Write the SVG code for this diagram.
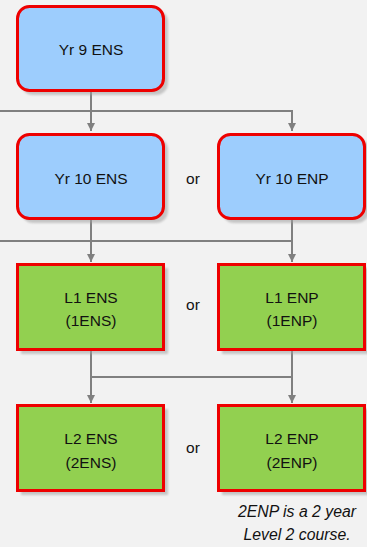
<svg xmlns="http://www.w3.org/2000/svg" width="367" height="547" viewBox="0 0 367 547">
  <style>
    .box { stroke: #ee0000; stroke-width: 3; }
    .yr { fill: #9dcdfd; }
    .lv { fill: #92d050; }
    .shadow { fill: #a0a0a0; opacity: 0.55; filter: url(#blur); }
    .lbl { font-family: "Liberation Sans", Arial, sans-serif; font-size: 15.5px; fill: #111; text-anchor: middle; dominant-baseline: central; }
    .note { font-family: "Liberation Sans", Arial, sans-serif; font-size: 15.8px; font-style: italic; fill: #111; text-anchor: middle; }
    .conn { stroke: #808080; stroke-width: 2; fill: none; }
  </style>
  <defs>
    <filter id="blur" x="-10%" y="-10%" width="120%" height="120%">
      <feGaussianBlur stdDeviation="1.2"/>
    </filter>
    <marker id="arr" viewBox="0 0 8 8" refX="8" refY="4" markerWidth="4" markerHeight="4" orient="auto" markerUnits="strokeWidth">
      <path d="M0,0 L8,4 L0,8 z" fill="#808080"/>
    </marker>
  </defs>
  <rect width="367" height="547" fill="#f2f2f2"/>

  <g id="connectors">
    <path class="conn" d="M91,92 V131" marker-end="url(#arr)"/>
    <path class="conn" d="M0,111 H292 V131" marker-end="url(#arr)"/>
    <path class="conn" d="M91,219 V262" marker-end="url(#arr)"/>
    <path class="conn" d="M0,241 H292"/>
    <path class="conn" d="M292,219 V262" marker-end="url(#arr)"/>
    <path class="conn" d="M91,351 V403" marker-end="url(#arr)"/>
    <path class="conn" d="M91,377 H292"/>
    <path class="conn" d="M292,351 V403" marker-end="url(#arr)"/>
  </g>

  <g id="yr9-ens">
    <rect class="shadow" x="21" y="10" width="147" height="85" rx="12"/>
    <rect class="box yr" x="17.5" y="6.5" width="146" height="84" rx="12"/>
    <text class="lbl" x="91" y="49">Yr 9 ENS</text>
  </g>

  <g id="yr10-ens">
    <rect class="shadow" x="21" y="138" width="147" height="85" rx="12"/>
    <rect class="box yr" x="17.5" y="134.5" width="146" height="84" rx="12"/>
    <text class="lbl" x="91" y="178">Yr 10 ENS</text>
  </g>

  <g id="or1"><text class="lbl" x="193" y="178">or</text></g>

  <g id="yr10-enp">
    <rect class="shadow" x="222" y="138" width="147" height="85" rx="12"/>
    <rect class="box yr" x="218.5" y="134.5" width="146" height="84" rx="12"/>
    <text class="lbl" x="292" y="178">Yr 10 ENP</text>
  </g>

  <g id="l1-ens">
    <rect class="shadow" x="21" y="268" width="147" height="86"/>
    <rect class="box lv" x="17.5" y="264.5" width="146" height="85"/>
    <text class="lbl" x="91" y="297">L1 ENS</text>
    <text class="lbl" x="91" y="320">(1ENS)</text>
  </g>

  <g id="or2"><text class="lbl" x="193" y="304">or</text></g>

  <g id="l1-enp">
    <rect class="shadow" x="222" y="268" width="147" height="86"/>
    <rect class="box lv" x="218.5" y="264.5" width="146" height="85"/>
    <text class="lbl" x="292" y="297">L1 ENP</text>
    <text class="lbl" x="292" y="320">(1ENP)</text>
  </g>

  <g id="l2-ens">
    <rect class="shadow" x="21" y="409" width="147" height="86"/>
    <rect class="box lv" x="17.5" y="405.5" width="146" height="85"/>
    <text class="lbl" x="91" y="438">L2 ENS</text>
    <text class="lbl" x="91" y="462">(2ENS)</text>
  </g>

  <g id="or3"><text class="lbl" x="193" y="447">or</text></g>

  <g id="l2-enp">
    <rect class="shadow" x="222" y="409" width="147" height="86"/>
    <rect class="box lv" x="218.5" y="405.5" width="146" height="85"/>
    <text class="lbl" x="292" y="438">L2 ENP</text>
    <text class="lbl" x="292" y="462">(2ENP)</text>
  </g>

  <g id="note">
    <text class="note" x="297" y="517">2ENP is a 2 year</text>
    <text class="note" x="297" y="540">Level 2 course.</text>
  </g>
</svg>
